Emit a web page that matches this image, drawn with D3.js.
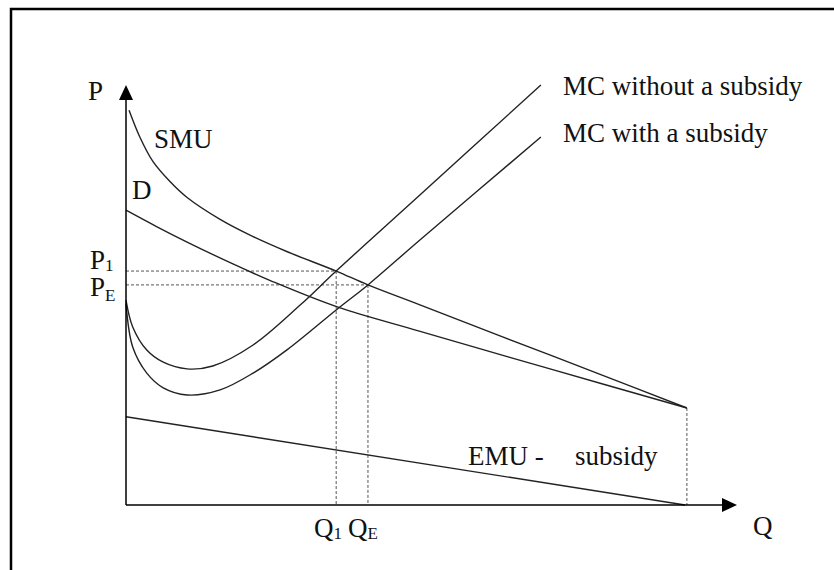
<!DOCTYPE html>
<html lang="en">
<head>
  <meta charset="UTF-8">
  <title>Marginal cost with and without a subsidy</title>
  <script src="https://d3js.org/d3.v7.min.js"></script>
  <style>
    body {
      margin: 0;
      padding: 0;
      background: #fff;
    }

    svg { display: block; }

    text {
      font-family: "Liberation Serif", "Times New Roman", serif;
      font-size: 27px;
      fill: #111;
    }

    .curve {
      fill: none;
      stroke: #222;
      stroke-width: 1.4px;
    }

    .guide {
      fill: none;
      stroke: #555;
      stroke-width: 1px;
      stroke-dasharray: 3,2;
    }

    .axis {
      stroke: #000;
      stroke-width: 1.5px;
    }
  </style>
</head>
<body>
  <svg id="chart" width="834" height="570"></svg>

  <script>
    // points are [Q, P], both on a 0-100 scale (100 = arrow tip)
    const smu = [[0.5, 94], [2.3, 87.5], [4.4, 81.8], [7.2, 77], [10, 73.2], [15.4, 68],
                 [20.8, 63.9], [26.4, 60.3], [34.4, 55.7], [39.6, 52.4], [48, 47.7],
                 [61, 40.4], [77.6, 31.1], [91.8, 23.1]];
    const demand = [[0, 70.2], [5, 66.3], [10, 62.6], [17.5, 57.4], [24, 53.2],
                    [34.7, 47.1], [48, 41.4], [69.4, 32.4], [91.8, 23.1]];
    const mcNoSubsidy = [[0, 48.8], [1.1, 42.4], [3.4, 36.9], [6.1, 34], [10, 32.4],
                         [14.2, 33.1], [20.8, 38.1], [28.5, 47.6], [34.4, 55.7],
                         [48.1, 73.8], [67.9, 100]];
    const mcSubsidy = [[0, 48], [1.1, 37.6], [3.4, 31.4], [6.1, 27.9], [10, 26.2],
                       [15.4, 27.4], [20.8, 31.4], [26.4, 37], [34.7, 46.8],
                       [39.6, 52.4], [48.1, 63.1], [67.9, 87.6]];
    const emu = [[0, 21], [91.5, 0]];

    // equilibrium guides: quantity, price, subscript
    const guideQ = [34.4, 39.6];
    const guideP = [55.7, 52.4];
    const guideSub = ["1", "E"];
    const qEnd = 91.8;

    const svg = d3.select("#chart");

    const x = d3.scaleLinear().domain([0, 100]).range([126, 737]);
    const y = d3.scaleLinear().domain([0, 100]).range([505, 85]);

    // frame (runs off the right and bottom edge)
    svg.append("rect")
      .attr("x", 11).attr("y", 9)
      .attr("width", 840).attr("height", 580)
      .attr("fill", "none")
      .attr("stroke", "#000")
      .attr("stroke-width", 2.5);

    const line = d3.line()
      .x(d => x(d[0]))
      .y(d => y(d[1]))
      .curve(d3.curveCatmullRom.alpha(0.5));

    // dashed guides
    guideQ.forEach((q, i) => {
      const p = guideP[i];
      svg.append("path").attr("class", "guide")
        .attr("d", `M${x(0)},${y(p)}H${x(q)}`);
      svg.append("path").attr("class", "guide")
        .attr("d", `M${x(q)},${y(p)}V${y(0)}`);
    });
    svg.append("path").attr("class", "guide")
      .attr("d", `M${x(qEnd)},${y(demand[demand.length - 1][1])}V${y(0)}`);

    // curves
    [smu, demand, mcNoSubsidy, mcSubsidy, emu].forEach(pts => {
      svg.append("path").attr("class", "curve").attr("d", line(pts));
    });

    // axes with arrow heads
    const head = 15, half = 7;
    svg.append("line").attr("class", "axis")
      .attr("x1", x(0)).attr("y1", y(0))
      .attr("x2", x(0)).attr("y2", y(100) + head);
    svg.append("line").attr("class", "axis")
      .attr("x1", x(0)).attr("y1", y(0))
      .attr("x2", x(100) - head).attr("y2", y(0));
    svg.append("path")
      .attr("d", `M${x(0)},${y(100)}L${x(0) - half},${y(100) + head}L${x(0) + half},${y(100) + head}Z`)
      .attr("fill", "#000");
    svg.append("path")
      .attr("d", `M${x(100)},${y(0)}L${x(100) - head},${y(0) - half}L${x(100) - head},${y(0) + half}Z`)
      .attr("fill", "#000");

    // labels
    function subText(px, py, main, sub, shift) {
      const t = svg.append("text").attr("x", px).attr("y", py);
      t.append("tspan").text(main);
      t.append("tspan").attr("dy", shift).style("font-size", "17px").text(sub);
    }

    svg.append("text").attr("x", 88).attr("y", 100).text("P");
    svg.append("text").attr("x", 753).attr("y", 535).text("Q");
    svg.append("text").attr("x", 154).attr("y", 148).text("SMU");
    svg.append("text").attr("x", 132).attr("y", 199).text("D");
    svg.append("text").attr("x", 563).attr("y", 95).text("MC without a subsidy");
    svg.append("text").attr("x", 563).attr("y", 142).text("MC with a subsidy");

    const emuLabel = svg.append("text").attr("y", 465);
    emuLabel.append("tspan").attr("x", 468).text("EMU -");
    emuLabel.append("tspan").attr("x", 575).text("subsidy");

    subText(90, y(guideP[0]) - 2, "P", guideSub[0], 2);
    subText(90, y(guideP[1]) + 11, "P", guideSub[1], 5);
    subText(314, 537, "Q", guideSub[0], 2);
    subText(348, 537, "Q", guideSub[1], 2);
  </script>
</body>
</html>
